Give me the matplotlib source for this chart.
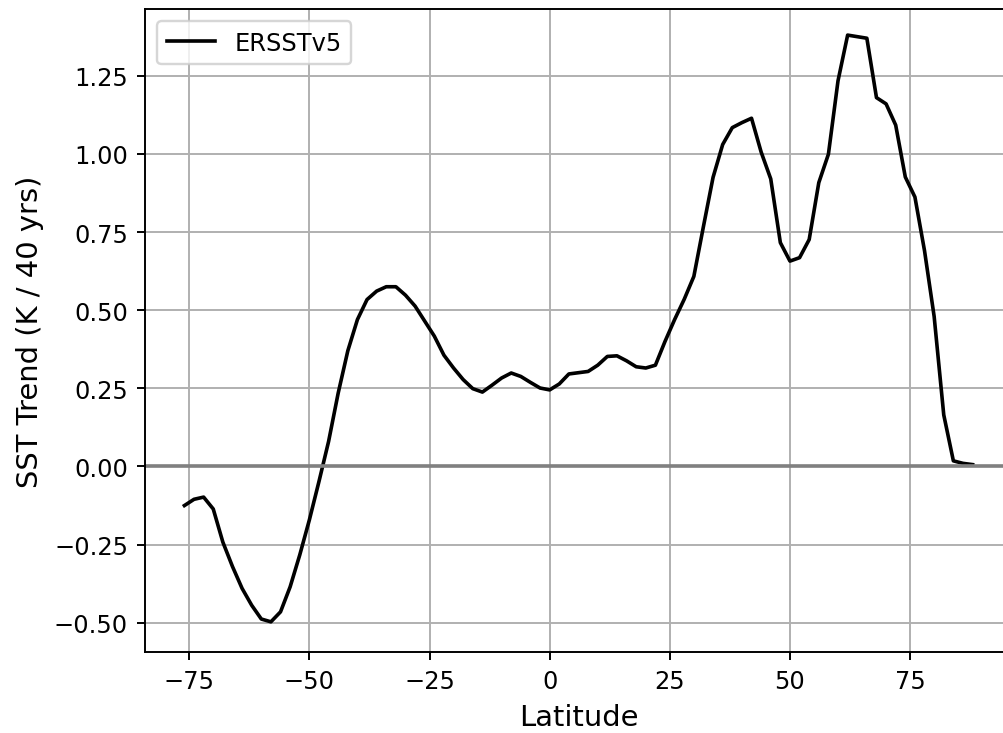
import numpy as np
import matplotlib.pyplot as plt

# zonal mean SST trend (2 degree bins)
lat = np.arange(-76, 90, 2)
sst_trend = [
    -0.125, -0.105, -0.098, -0.136, -0.242, -0.320, -0.390, -0.444, -0.488, -0.497,   # -76..-58
    -0.465, -0.385, -0.283, -0.171, -0.048, 0.080, 0.235, 0.370, 0.470, 0.534,        # -56..-38
    0.561, 0.575, 0.575, 0.548, 0.513, 0.465, 0.417, 0.356, 0.315, 0.278,             # -36..-18
    0.249, 0.238, 0.260, 0.283, 0.299, 0.288, 0.269, 0.251, 0.245, 0.264,             # -16..2
    0.296, 0.300, 0.304, 0.324, 0.352, 0.354, 0.338, 0.319, 0.315, 0.324,             # 4..22
    0.400, 0.470, 0.535, 0.608, 0.768, 0.925, 1.030, 1.084, 1.100, 1.114,             # 24..42
    1.006, 0.920, 0.716, 0.657, 0.668, 0.726, 0.908, 0.999, 1.234, 1.380,             # 44..62
    1.375, 1.370, 1.180, 1.160, 1.092, 0.926, 0.862, 0.690, 0.480, 0.165,             # 64..82
    0.018, 0.010, 0.006,                                                              # 84..88
]

dpi = 174
fig = plt.figure(figsize=(1003 / dpi, 734 / dpi), dpi=dpi)
ax = fig.add_axes([145 / 1003, 81 / 734, 867 / 1003, 643 / 734])

ax.plot(lat, sst_trend, color='k', label='ERSSTv5')
ax.axhline(0, color='gray')
ax.set_xlim(-84.2, 96.2)
ax.set_ylim(-0.5935, 1.4635)
ax.set_xticks([-75, -50, -25, 0, 25, 50, 75])
ax.set_yticks([-0.5, -0.25, 0, 0.25, 0.5, 0.75, 1.0, 1.25])
ax.grid(True)
ax.set_xlabel('Latitude', fontsize=12)
ax.set_ylabel('SST Trend (K / 40 yrs)', fontsize=12)
ax.legend(loc='upper left')

fig.savefig('out.png', dpi=dpi)
